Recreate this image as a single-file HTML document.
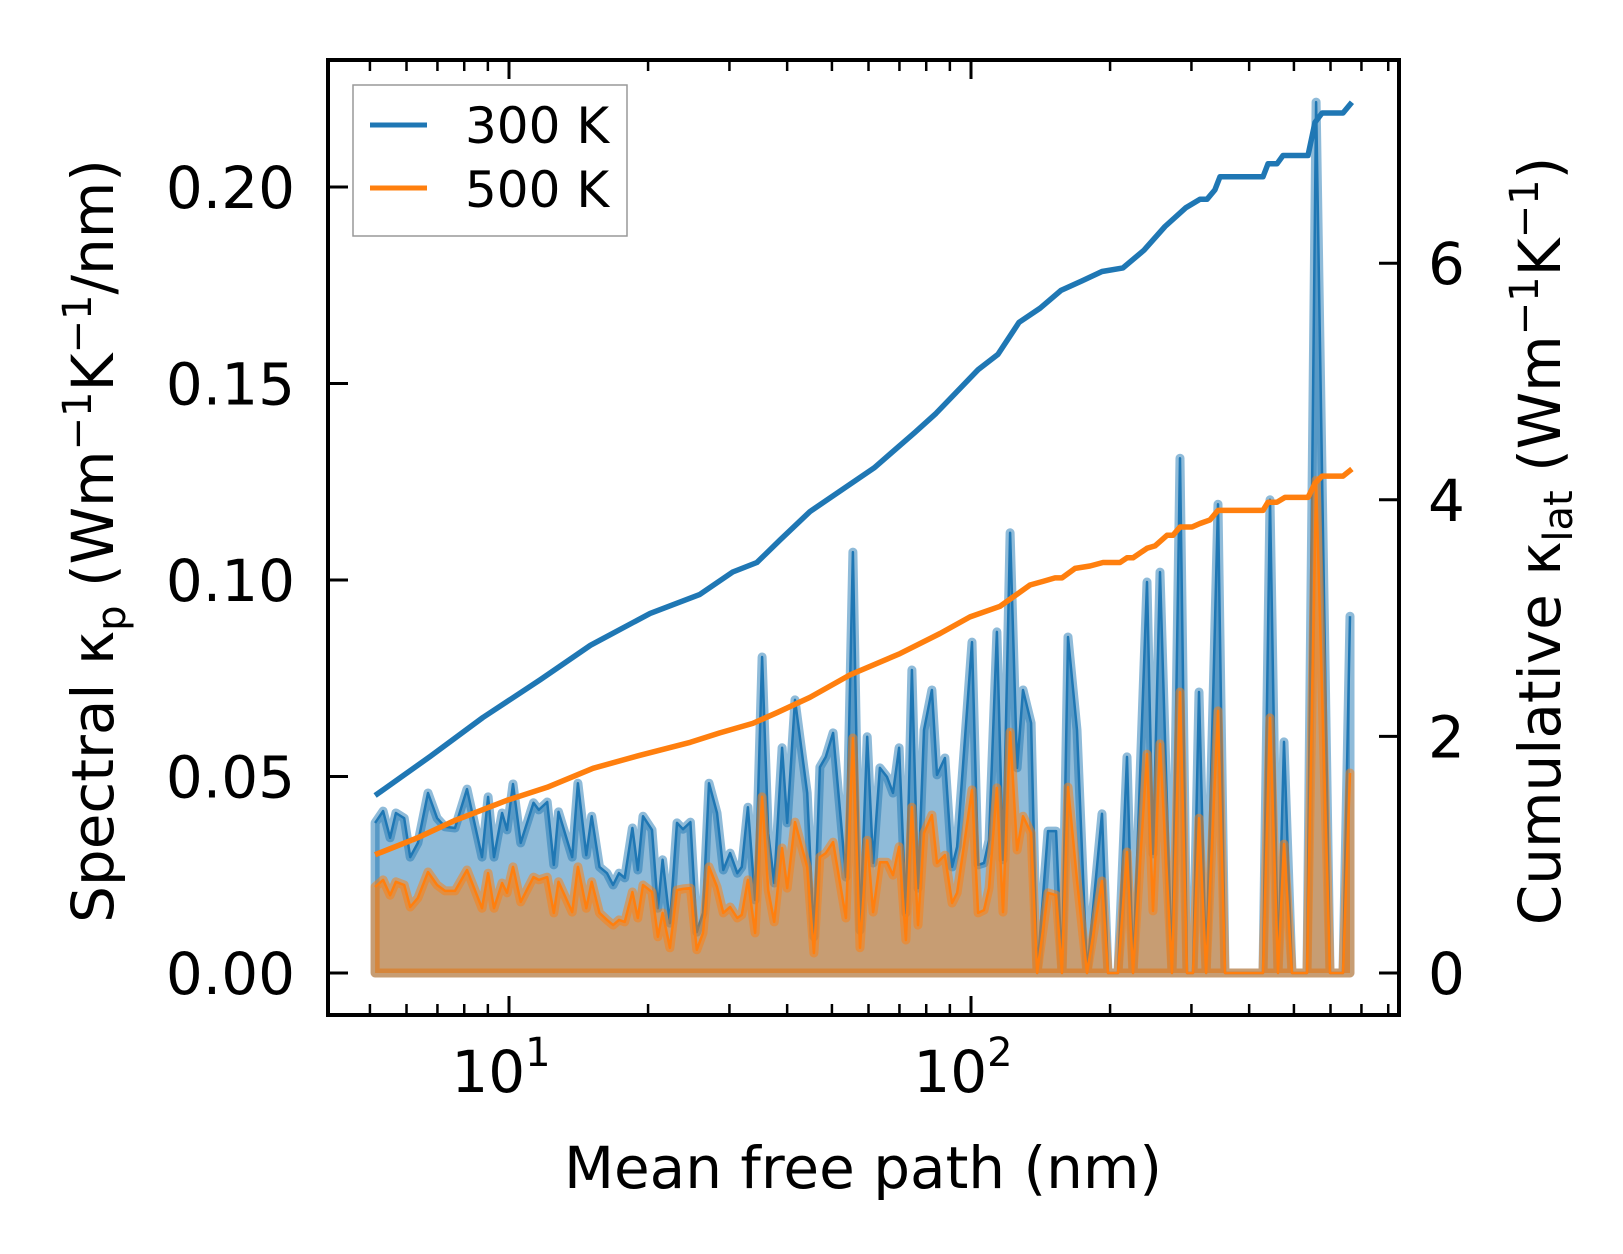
<!DOCTYPE html>
<html><head><meta charset="utf-8"><style>
html,body{margin:0;padding:0;background:#fff;}
svg{display:block;font-family:"DejaVu Sans","Liberation Sans",sans-serif;}
</style></head><body>
<svg id="chart" width="1623" height="1254" viewBox="0 0 1623 1254" xmlns="http://www.w3.org/2000/svg">
<g id="spec"></g>
<g id="cum"></g>
<g id="axes"></g>
<text x="863" y="1188" font-size="58" text-anchor="middle">Mean free path (nm)</text>
<text transform="translate(113,541) rotate(-90)" font-size="58" text-anchor="middle">Spectral κ<tspan font-size="40" dy="12">p</tspan><tspan dy="-12"> (Wm</tspan><tspan font-size="40" dy="-22">−1</tspan><tspan dy="22">K</tspan><tspan font-size="40" dy="-22">−1</tspan><tspan dy="22">/nm)</tspan></text>
<text transform="translate(1560,541) rotate(-90)" font-size="58" text-anchor="middle">Cumulative κ<tspan font-size="40" dy="12">lat</tspan><tspan dy="-12"> (Wm</tspan><tspan font-size="40" dy="-22">−1</tspan><tspan dy="22">K</tspan><tspan font-size="40" dy="-22">−1</tspan><tspan dy="22">)</tspan></text>
<g>
<rect x="353" y="85" width="274" height="151" fill="rgba(255,255,255,0.85)" stroke="#999" stroke-width="1.5"/>
<line x1="370" y1="125" x2="427" y2="125" stroke="#1f77b4" stroke-width="5"/>
<text x="465" y="143" font-size="50">300 K</text>
<line x1="370" y1="188" x2="427" y2="188" stroke="#ff7f0e" stroke-width="5"/>
<text x="465" y="207" font-size="50">500 K</text>
</g>
</svg>
<script>
const mfpSpec=[5.13,5.34,5.53,5.69,5.93,6.11,6.35,6.68,6.99,7.27,7.64,8.11,8.74,9.01,9.28,9.66,9.90,10.2,10.6,11.3,11.6,12.1,12.5,12.8,13.7,14.1,14.7,15.1,15.7,16.3,16.8,17.3,17.8,18.5,19.0,19.5,20.4,21.0,21.5,22.3,23.1,23.8,24.7,25.5,26.3,27.1,28.2,29.1,30.1,31.2,31.9,32.9,34.1,35.3,36.4,37.5,39.0,40.0,41.6,44.2,45.7,47.1,48.5,50.3,53.6,55.5,57.5,59.6,61.4,63.5,65.8,67.8,69.9,72.3,74.5,76.8,79.1,82.3,84.4,87.8,91.0,93.3,100.5,103.6,106.7,109.4,113.8,117.3,121.5,125.8,129.6,134.9,139.0,146.8,152.8,157.4,162.2,169.6,178.3,192.1,197.9,208.1,217.6,224.2,240.4,247.7,256.5,272.3,283.4,293.4,302.4,311.6,322.7,342.4,354.6,428.5,443.8,461.8,475.8,495.2,533.8,558.4,598.4,638.6,661.3];
const spec300=[0.0382,0.0412,0.0344,0.0407,0.0394,0.0295,0.0331,0.0458,0.0394,0.0372,0.0369,0.0468,0.0295,0.0448,0.0295,0.0407,0.0364,0.0481,0.0331,0.0433,0.0415,0.0435,0.0275,0.0410,0.0295,0.0483,0.0300,0.0399,0.0270,0.0254,0.0224,0.0254,0.0242,0.0369,0.0262,0.0399,0.0364,0.0165,0.0288,0.0127,0.0382,0.0366,0.0384,0.0104,0.0153,0.0483,0.0407,0.0262,0.0305,0.0254,0.0270,0.0422,0.0186,0.0804,0.0356,0.0229,0.0573,0.0382,0.0695,0.0458,0.0092,0.0524,0.0550,0.0611,0.0244,0.1071,0.0109,0.0601,0.0280,0.0522,0.0499,0.0458,0.0573,0.0153,0.0771,0.0216,0.0618,0.0720,0.0504,0.0547,0.0270,0.0321,0.0842,0.0275,0.0280,0.0338,0.0868,0.0288,0.1120,0.0522,0.0720,0.0636,0,0.0361,0.0361,0,0.0855,0.0618,0,0.0405,0,0,0.0550,0,0.0995,0.0303,0.1020,0,0.1310,0,0,0.0715,0,0.1193,0,0,0.1204,0,0.0588,0,0,0.2216,0,0,0.0908];
const spec500=[0.0219,0.0237,0.0198,0.0232,0.0224,0.0168,0.0191,0.0257,0.0224,0.0209,0.0209,0.0262,0.0165,0.0254,0.0165,0.0229,0.0204,0.0270,0.0181,0.0244,0.0237,0.0244,0.0153,0.0232,0.0155,0.0270,0.0165,0.0232,0.0153,0.0135,0.0122,0.0135,0.0130,0.0206,0.0140,0.0224,0.0206,0.0092,0.0153,0.0064,0.0211,0.0214,0.0216,0.0059,0.0102,0.0270,0.0219,0.0153,0.0168,0.0140,0.0148,0.0237,0.0102,0.0448,0.0211,0.0130,0.0318,0.0216,0.0384,0.0270,0.0051,0.0295,0.0305,0.0333,0.0140,0.0598,0.0064,0.0338,0.0155,0.0282,0.0282,0.0249,0.0321,0.0084,0.0422,0.0122,0.0356,0.0402,0.0280,0.0300,0.0178,0.0204,0.0466,0.0153,0.0160,0.0216,0.0471,0.0155,0.0613,0.0313,0.0399,0.0356,0,0.0204,0.0198,0,0.0473,0.0237,0,0.0234,0,0,0.0308,0,0.0557,0.0158,0.0583,0,0.0715,0,0,0.0394,0,0.0667,0,0,0.0649,0,0.0328,0,0,0.1254,0,0,0.0509];
const mfpCum300=[5.13,6.75,8.78,11.7,15.0,20.2,25.9,30.5,34.4,38.6,44.8,61.7,75.6,84.0,103.6,114.4,127.0,141.1,156.6,173.9,192.1,213.3,236.9,263.0,292.0,313.1,324.2,337.3,345.9,428.5,439.4,459.5,473.4,536.3,555.5,575.3,638.6,667.6];
const cum300=[1.50,1.83,2.16,2.48,2.77,3.04,3.20,3.39,3.47,3.66,3.90,4.27,4.57,4.73,5.10,5.23,5.50,5.62,5.77,5.85,5.93,5.96,6.11,6.31,6.47,6.54,6.54,6.62,6.73,6.73,6.84,6.84,6.91,6.91,7.19,7.27,7.27,7.36];
const mfpCum500=[5.13,6.32,7.64,9.90,12.1,15.2,19.2,24.7,28.6,33.7,38.0,44.8,54.7,70.2,85.7,99.5,115.6,134.2,143.2,152.0,157.4,168.0,181.0,193.1,210.1,217.6,224.2,240.4,250.2,265.6,273.6,283.4,300.9,313.1,329.1,342.4,428.5,439.4,459.5,478.2,536.3,555.5,575.3,638.6,667.6];
const cum500=[1.00,1.14,1.29,1.46,1.57,1.73,1.84,1.95,2.03,2.11,2.20,2.33,2.52,2.70,2.87,3.01,3.10,3.28,3.31,3.34,3.34,3.42,3.44,3.47,3.47,3.51,3.51,3.59,3.61,3.70,3.70,3.77,3.77,3.80,3.83,3.91,3.91,3.98,3.98,4.02,4.02,4.14,4.20,4.20,4.26];
const leftTicks=[0,0.05,0.10,0.15,0.20];
const leftTickLabels=["0.00","0.05","0.10","0.15","0.20"];
const rightTicks=[0,2,4,6];
const xMajor=[10,100];
const xMinor=[5,6,7,8,9,20,30,40,50,60,70,80,90,200,300,400,500,600,700,800];

const NS="http://www.w3.org/2000/svg";
const L=328,R=1399,T=60,B=1015;
const xs=m=>509+462*(Math.log10(m)-1);
const yl=v=>973-v*3930;
const yr=c=>973-c*118.3;
function mk(tag,attrs,parent){const e=document.createElementNS(NS,tag);for(const k in attrs)e.setAttribute(k,attrs[k]);parent.appendChild(e);return e;}
const spec=document.getElementById('spec'),cum=document.getElementById('cum'),ax=document.getElementById('axes');

function area(xsArr,vals,color,rgb,name){
  let pts=xsArr.map((m,i)=>xs(m).toFixed(1)+','+yl(vals[i]).toFixed(1));
  const x0=xs(xsArr[0]).toFixed(1),x1=xs(xsArr[xsArr.length-1]).toFixed(1),y0=yl(0);
  const poly=x0+','+y0+' '+pts.join(' ')+' '+x1+','+y0;
  const f=mk('polygon',{points:poly,fill:'rgba('+rgb+',0.5)',stroke:'rgba('+rgb+',0.5)','stroke-width':9,'stroke-linejoin':'round'},spec);
  
  
  const l=mk('polyline',{points:pts.join(' '),fill:'none',stroke:color,'stroke-width':2.5,'stroke-linejoin':'round'},spec);
  
  
}
area(mfpSpec,spec300,'#1f77b4','31,119,180','spectral-300k');
area(mfpSpec,spec500,'#ff7f0e','255,127,14','spectral-500k');

function line(xsArr,vals,color,name){
  const pts=xsArr.map((m,i)=>xs(m).toFixed(1)+','+yr(vals[i]).toFixed(1)).join(' ');
  const l=mk('polyline',{points:pts,fill:'none',stroke:color,'stroke-width':5.5,'stroke-linejoin':'round'},cum);
  
  
}
line(mfpCum300,cum300,'#1f77b4','cumulative-300k-line');
line(mfpCum500,cum500,'#ff7f0e','cumulative-500k-line');

const frame=mk('rect',{x:L,y:T,width:R-L,height:B-T,fill:'none',stroke:'#000','stroke-width':4},ax);


leftTicks.forEach((v,i)=>{
  const y=yl(v);
  const t=mk('line',{x1:L,x2:L+20,y1:y,y2:y,stroke:'#000','stroke-width':3},ax);
  
  
  const tx=mk('text',{x:295,y:y+21,'font-size':58,'text-anchor':'end'},ax);
  tx.textContent=leftTickLabels[i];
  
  
});
rightTicks.forEach(c=>{
  const y=yr(c);
  const t=mk('line',{x1:R-20,x2:R,y1:y,y2:y,stroke:'#000','stroke-width':3},ax);
  
  
  const tx=mk('text',{x:1428,y:y+21,'font-size':58},ax);
  tx.textContent=String(c);
  
  
});
xMajor.forEach(m=>{
  const x=xs(m);
  [[B,B-19],[T,T+19]].forEach(([a,b])=>{
    const t=mk('line',{x1:x,x2:x,y1:a,y2:b,stroke:'#000','stroke-width':3},ax);
    
    
  });
  const tx=mk('text',{x:x-8,y:1092,'font-size':58,'text-anchor':'middle'},ax);
  
  
  tx.innerHTML='10<tspan font-size="40" dy="-26">'+Math.round(Math.log10(m))+'</tspan>';
});
xMinor.forEach(m=>{
  const x=xs(m);
  if(x<L||x>R)return;
  [[B,B-11],[T,T+11]].forEach(([a,b])=>{
    const t=mk('line',{x1:x,x2:x,y1:a,y2:b,stroke:'#000','stroke-width':2.5},ax);
    
    
  });
});
</script>
</body></html>
